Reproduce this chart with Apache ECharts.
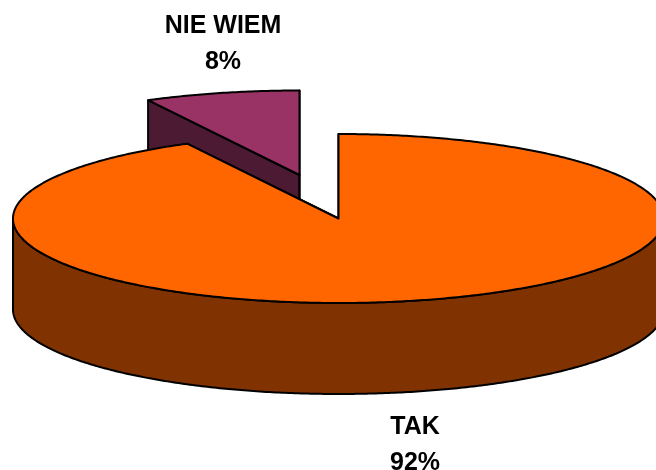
<!DOCTYPE html>
<html><head><meta charset="utf-8">
<style>html,body{margin:0;padding:0;background:#fff}#c{width:656px;height:470px}</style>
<script src="https://cdn.jsdelivr.net/npm/echarts@6/dist/echarts.min.js"></script>
</head><body><div id="c"></div>
<script>
const categories = ['TAK', 'NIE WIEM'];
const values = [92.3, 7.7];

const topColors = ['#FF6600', '#993366'];
const sideColors = ['#803300', '#4D1A33'];
const offsets = [[0, 0], [-39, -43.5]];
const labelAt = [[415, 445], [223, 44.5]];
const CX = 338.5, CY = 218.5, RX = 325.5, RY = 84.5, DEPTH = 91;
const total = values.reduce((a, b) => a + b, 0);

function pt(cx, cy, a, dy) {
  return [cx + RX * Math.sin(a), cy - RY * Math.cos(a) + (dy || 0)];
}
function arc(cx, cy, a0, a1, dy) {
  const n = Math.max(2, Math.ceil(Math.abs(a1 - a0) / 0.01));
  const out = [];
  for (let i = 0; i <= n; i++) out.push(pt(cx, cy, a0 + (a1 - a0) * i / n, dy));
  return out;
}
const line = { stroke: '#000', lineWidth: 2, lineJoin: 'round' };
function poly(points, fill) {
  return { type: 'polygon', shape: { points }, style: Object.assign({ fill }, line) };
}
function renderItem(params, api) {
  const i = params.dataIndex;
  const v = api.value(1);
  let before = 0;
  for (let k = 0; k < i; k++) before += values[k];
  const a0 = before / total * 2 * Math.PI;
  const a1 = (before + v) / total * 2 * Math.PI;
  const cx = CX + offsets[i][0], cy = CY + offsets[i][1];
  const children = [];
  const pa = pt(cx, cy, a0), pb = pt(cx, cy, a1);
  children.push(poly([[cx, cy], pa, [pa[0], pa[1] + DEPTH], [cx, cy + DEPTH]], sideColors[i]));
  children.push(poly([[cx, cy], pb, [pb[0], pb[1] + DEPTH], [cx, cy + DEPTH]], sideColors[i]));
  const s = Math.max(a0, Math.PI / 2), e = Math.min(a1, 3 * Math.PI / 2);
  if (e > s) {
    children.push(poly(arc(cx, cy, s, e).concat(arc(cx, cy, e, s, DEPTH)), sideColors[i]));
  }
  children.push(poly([[cx, cy]].concat(arc(cx, cy, a0, a1)), topColors[i]));
  const ord = 10 - i;
  children.forEach(c => { c.z2 = ord; });
  children.push({
    type: 'text', z2: 50,
    style: {
      x: labelAt[i][0], y: labelAt[i][1], text: api.value(2) + '\n' + Math.round(v) + '%',
      fill: '#000', font: 'bold 25px "Liberation Sans", Arial, sans-serif',
      lineHeight: 36, align: 'center', verticalAlign: 'middle'
    }
  });
  return { type: 'group', children };
}
const chart = echarts.init(document.getElementById('c'), null, { renderer: 'canvas' });
chart.setOption({
  animation: false,
  backgroundColor: '#fff',
  series: [
    {
      type: 'custom', coordinateSystem: 'none', renderItem: renderItem, silent: true,
      data: categories.map((c, i) => [i, values[i], c])
    }
  ]
});
</script></body></html>
